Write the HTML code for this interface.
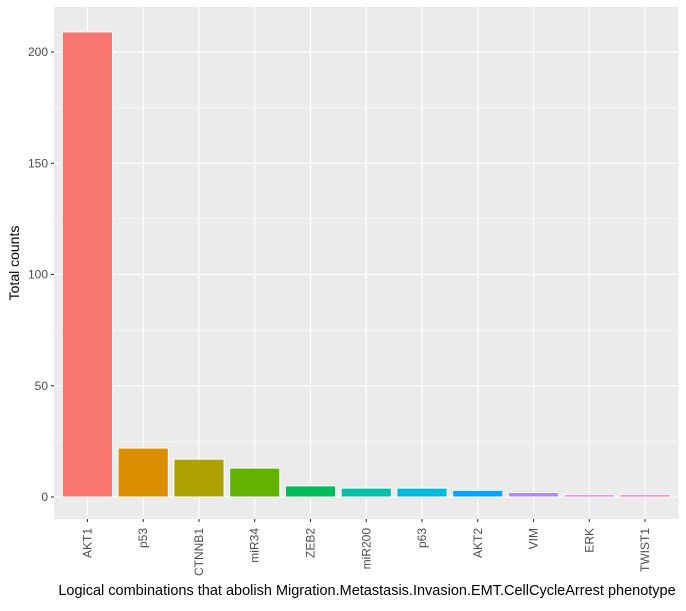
<!DOCTYPE html>
<html><head><meta charset="utf-8"><style>
body{margin:0;background:#fff;font-family:"Liberation Sans",Arial,sans-serif;}
</style></head><body>
<svg id="chart" width="686" height="606" xmlns="http://www.w3.org/2000/svg">
<rect width="686" height="606" fill="#fff"/>
<g id="plot"></g>
<text x="367" y="595" text-anchor="middle" font-size="14.5" fill="#000">Logical combinations that abolish Migration.Metastasis.Invasion.EMT.CellCycleArrest phenotype</text>
<text transform="translate(19,263) rotate(-90)" text-anchor="middle" font-size="14" fill="#000">Total counts</text>
</svg>
<script>
const categories=["AKT1","p53","CTNNB1","miR34","ZEB2","miR200","p63","AKT2","VIM","ERK","TWIST1"];
const counts=[209,22,17,13,5,4,4,3,2,1,1];
const colors=["#F8766D","#DB8E00","#AEA200","#64B200","#00BD5C","#00C1A7","#00BADE","#00A6FF","#B385FF","#EF67EB","#FF63B6"];
const yTicks=[0,50,100,150,200];
const L=54,R=678.5,T=7,B=519;
const step=(R-L)/(categories.length+0.2);
const xc=i=>L+step*(0.6+i);
const y=v=>497-v*2.225;
const g=document.getElementById('plot');
const NS="http://www.w3.org/2000/svg";
function mk(t,a){const e=document.createElementNS(NS,t);for(const k in a)e.setAttribute(k,a[k]);g.appendChild(e);return e;}
let e=mk('rect',{x:L,y:T,width:R-L,height:B-T,fill:'#EBEBEB'});


for(let i=0;i<yTicks.length;i++){
  const v=yTicks[i];
  if(i<yTicks.length-1){const m=mk('line',{x1:L,x2:R,y1:y(v+25),y2:y(v+25),stroke:'#fff','stroke-width':0.55});
  
  }
  const l=mk('line',{x1:L,x2:R,y1:y(v),y2:y(v),stroke:'#fff','stroke-width':1.1});
  
  
  mk('line',{x1:L-3,x2:L,y1:y(v),y2:y(v),stroke:'#333','stroke-width':1.1});
  const t=mk('text',{x:L-6,y:y(v)+4,'text-anchor':'end','font-size':12,fill:'#4D4D4D'});
  t.textContent=v;
  
  
}
categories.forEach((c,i)=>{
  const x=xc(i);
  const l=mk('line',{x1:x,x2:x,y1:T,y2:B,stroke:'#fff','stroke-width':1.1});
  
  
});
categories.forEach((c,i)=>{
  const x=xc(i),w=step*0.9;
  const r=mk('rect',{x:x-w/2,y:y(counts[i]),width:w,height:y(0)-y(counts[i]),fill:colors[i],stroke:'#fff','stroke-width':1});
  
  
  mk('line',{x1:x,x2:x,y1:B,y2:B+3,stroke:'#333','stroke-width':1.1});
  const t=mk('text',{transform:`translate(${x+4},${B+9}) rotate(-90)`,'text-anchor':'end','font-size':12,fill:'#4D4D4D'});
  t.textContent=c;
  
  
});
</script>
</body></html>
